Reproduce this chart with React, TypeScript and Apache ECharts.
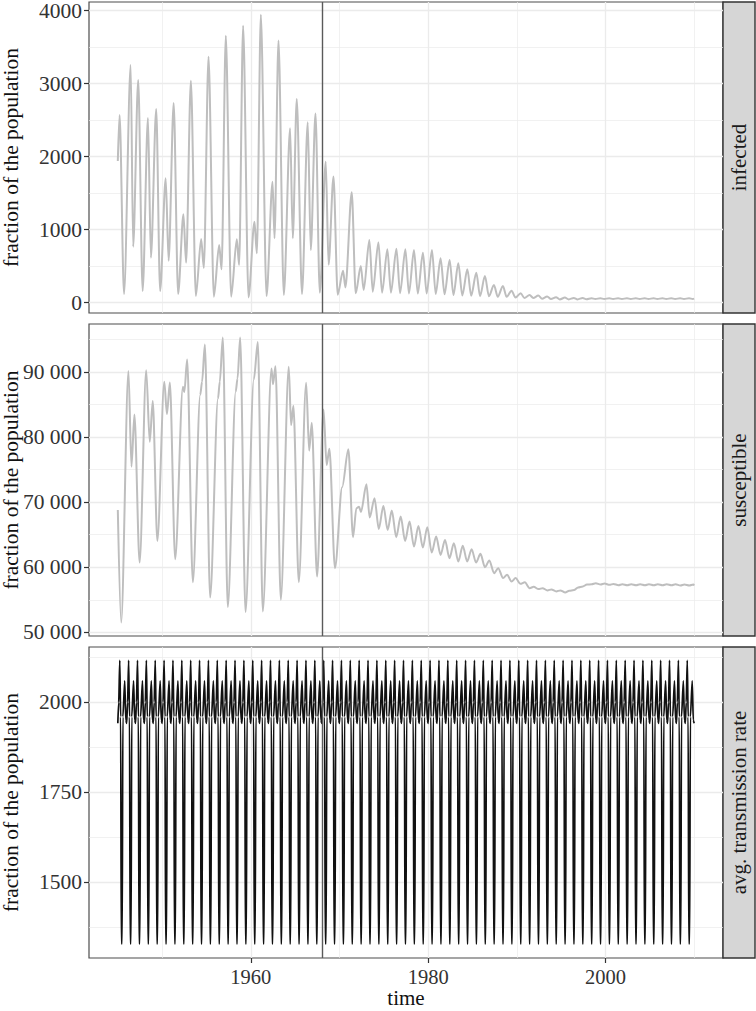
import React, { useEffect, useRef } from "react";
import * as echarts from "echarts";

// ---------- data ----------
const timeMin = 1941.75;
const timeMax = 2013.25;
const xMajorTicks = [1960, 1980, 2000];
const xMinorTicks = [1950, 1970, 1990, 2010];
const vaccinationYear = 1968;
const panelNames = ["infected", "susceptible", "avg. transmission rate"];
const yTitle = "fraction of the population";
const xTitle = "time";

const infectedTime = [
  1945.0, 1945.2, 1945.7, 1946.45, 1946.73, 1947.3, 1947.8, 1948.4, 1948.73, 1949.33, 1949.77,
  1950.4, 1950.73, 1951.3, 1951.8, 1952.4, 1952.7, 1953.24, 1953.8, 1954.4, 1954.7, 1955.23,
  1955.83, 1956.43, 1956.7, 1957.18, 1957.78, 1958.42, 1958.68, 1959.13, 1959.74, 1960.41,
  1960.68, 1961.13, 1961.77, 1962.45, 1962.67, 1963.12, 1963.72, 1964.43, 1964.73, 1965.18,
  1965.77, 1966.42, 1966.76, 1967.29, 1967.78, 1968.45, 1968.77, 1969.32, 1969.8, 1970.4,
  1970.67, 1971.38, 1971.83, 1972.4, 1972.73, 1973.37, 1973.75, 1974.39, 1974.8, 1975.4,
  1975.8, 1976.42, 1976.83, 1977.43, 1977.83, 1978.4, 1978.83, 1979.41, 1979.83, 1980.43,
  1980.85, 1981.4, 1981.85, 1982.42, 1982.85, 1983.4, 1983.85, 1984.42, 1984.85, 1985.43,
  1985.85, 1986.4, 1986.85, 1987.42, 1987.85, 1988.43, 1988.85, 1989.4, 1989.85, 1990.43,
  1990.85, 1991.44, 1991.85, 1992.42, 1992.85, 1993.42, 1993.85, 1994.42, 1994.85, 1995.42,
  1995.85, 1996.42, 1996.85, 1997.42, 1997.85, 1998.42, 1998.85, 1999.42, 1999.85, 2000.42,
  2000.85, 2001.42, 2001.85, 2002.42, 2002.85, 2003.42, 2003.85, 2004.42, 2004.85, 2005.42,
  2005.85, 2006.42, 2006.85, 2007.42, 2007.85, 2008.42, 2008.85, 2009.42, 2009.85, 2010.0,
];
const infectedValue = [
  1940, 2570, 119, 3256, 767, 3051, 160, 2530, 617, 2654, 160,
  1704, 575, 2736, 119, 1211, 548, 3042, 92, 873, 475, 3370,
  82, 790, 457, 3658, 82, 868, 516, 3795, 73, 1110,
  676, 3946, 92, 1658, 882, 3590, 105, 2389, 882, 2791,
  119, 2471, 722, 2590, 137, 1932, 520, 1730, 110, 438,
  210, 1512, 129, 503, 174, 859, 151, 827, 137, 731,
  137, 740, 130, 731, 125, 722, 125, 685, 125, 722,
  119, 608, 115, 585, 105, 540, 100, 457, 95, 411,
  90, 366, 90, 242, 80, 229, 80, 164, 70, 129,
  65, 105, 65, 97, 55, 85, 50, 75, 45, 70,
  45, 65, 45, 65, 48, 62, 50, 62, 50, 62,
  50, 62, 50, 62, 50, 62, 50, 62, 50, 62,
  50, 62, 50, 62, 50, 62, 50, 62, 50, 55,
];
const infectedTicks = [0, 1000, 2000, 3000, 4000];
const infectedMinorTicks = [500, 1500, 2500, 3500];
const infectedRange = [-141, 4119];

const susceptibleTime = [
  1945.0, 1945.38, 1946.2, 1946.54, 1946.87, 1947.46, 1948.2, 1948.6, 1948.94, 1949.46,
  1950.24, 1950.54, 1950.87, 1951.47, 1952.34, 1952.5, 1952.82, 1953.46, 1954.3, 1954.5,
  1954.82, 1955.41, 1956.3, 1956.5, 1956.84, 1957.4, 1958.3, 1958.5, 1958.8, 1959.4,
  1960.34, 1960.79, 1961.35, 1962.33, 1962.5, 1962.78, 1963.38, 1964.28, 1964.54, 1964.8,
  1965.41, 1966.24, 1966.58, 1966.87, 1967.47, 1968.2, 1968.55, 1968.86, 1969.49, 1970.3,
  1971.0, 1971.53, 1971.9, 1972.2, 1972.42, 1973.04, 1973.4, 1973.95, 1974.43, 1974.95,
  1975.43, 1975.9, 1976.4, 1976.9, 1977.4, 1977.9, 1978.4, 1978.9, 1979.4, 1979.9,
  1980.4, 1980.9, 1981.4, 1981.9, 1982.4, 1982.9, 1983.4, 1983.9, 1984.4, 1984.9,
  1985.4, 1985.9, 1986.4, 1986.9, 1987.43, 1987.9, 1988.45, 1988.9, 1989.4, 1989.86,
  1990.4, 1990.9, 1991.44, 1991.9, 1992.45, 1992.9, 1993.45, 1993.9, 1994.45, 1994.9,
  1995.46, 1995.9, 1996.45, 1996.9, 1997.45, 1997.9, 1998.45, 1998.9, 1999.45, 1999.9,
  2000.45, 2000.9, 2001.45, 2001.9, 2002.45, 2002.9, 2003.45, 2003.9, 2004.45, 2004.9,
  2005.45, 2005.9, 2006.45, 2006.9, 2007.45, 2007.9, 2008.45, 2008.9, 2009.45, 2009.9,
  2010.0,
];
const susceptibleValue = [
  68800, 51530, 90150, 75440, 83470, 60730, 90250, 79270, 85510, 64050,
  88470, 83520, 88370, 61250, 87700, 86900, 91900, 57720, 86500, 88500,
  94200, 55360, 85900, 88500, 95270, 53890, 87000, 89000, 95270, 53130,
  88830, 94600, 53220, 90500, 88110, 90870, 55010, 90800, 81830, 84790,
  57720, 88320, 77900, 82180, 58580, 84240, 75700, 78200, 59870, 72300,
  78110, 64620, 69060, 69300, 68500, 72740, 67630, 70600, 65890, 69420,
  65740, 68700, 64620, 67780, 64050, 67010, 63180, 66350, 63030, 66150,
  62260, 64710, 61900, 64200, 61400, 63700, 60880, 63300, 60880, 62780,
  60720, 62060, 60020, 61030, 59100, 59870, 58340, 58850, 57820, 58340,
  57460, 57700, 56800, 57000, 56650, 56800, 56450, 56600, 56300, 56450,
  56130, 56400, 56500, 56900, 57050, 57350, 57400, 57550, 57350, 57500,
  57300, 57450, 57250, 57400, 57250, 57400, 57250, 57400, 57250, 57400,
  57250, 57400, 57250, 57400, 57250, 57400, 57200, 57350, 57200, 57350,
  57200,
];
const susceptibleTicks = [50000, 60000, 70000, 80000, 90000];
const susceptibleMinorTicks = [55000, 65000, 75000, 85000, 95000];
const susceptibleRange = [49450, 97350];

// one seasonal cycle of the transmission rate, repeated every year
const rateFirstYear = 1945;
const rateLastYear = 2010;
const rateCyclePhase = [0, 0.1, 0.22, 0.32, 0.39, 0.49, 0.57, 0.78, 0.9];
const rateCycleValue = [1942, 2000, 2117, 1960, 1330, 1330, 1960, 2060, 1950];
const rateTicks = [1500, 1750, 2000];
const rateMinorTicks = [1375, 1625, 1875, 2125];
const rateRange = [1290, 2154];

// ---------- layout ----------
const W = 756;
const H = 1011;
const gridLeft = 89;
const gridRight = 723;
const stripW = 32;
const panelTops = [2, 324, 647];
const panelHeights = [311, 312, 311];
const font = "'Liberation Serif', 'Times New Roman', serif";
const tickFont = 21.5;
const xTickFont = 20.5;
const titleFont = 21.5;
const stripFont = 21;

function pairs(t: number[], v: number[]) {
  return t.map((x, i) => [x, v[i]]);
}

function rateSeriesData() {
  const out: number[][] = [];
  for (let y = rateFirstYear; y < rateLastYear; y++) {
    rateCyclePhase.forEach((p, i) => out.push([y + p, rateCycleValue[i]]));
  }
  out.push([rateLastYear, rateCycleValue[0]]);
  return out;
}

export default function App() {
  const ref = useRef<HTMLDivElement>(null);
  useEffect(() => {
    const chart = echarts.init(ref.current!, null, { renderer: "svg" });
    const grids = panelTops.map((top, i) => ({
      left: gridLeft,
      top,
      width: gridRight - gridLeft,
      height: panelHeights[i],
      show: true,
      borderColor: "#4d4d4d",
      borderWidth: 1.2,
      backgroundColor: "#fff",
      containLabel: false,
      outerBoundsMode: "none",
    }));
    const gridLine = "#EBEBEB";
    const xAxes: any[] = [];
    panelTops.forEach((_, i) => {
      const last = i === panelTops.length - 1;
      xAxes.push({
        type: "value",
        gridIndex: i,
        min: timeMin,
        max: timeMax,
        position: "bottom",
        axisLine: { show: false },
        axisTick: { show: last, length: 5, customValues: xMajorTicks, lineStyle: { color: "#333", width: 1.2 } },
        axisLabel: {
          show: last,
          customValues: xMajorTicks,
          formatter: (v: number) => String(v),
          margin: 8,
          color: "#333",
          fontFamily: font,
          fontSize: xTickFont,
        },
        splitLine: { show: true, lineStyle: { color: gridLine, width: 1.3 } },
        name: last ? xTitle : "",
        nameLocation: "middle",
        nameGap: 29.5,
        nameMoveOverlap: false,
        nameTextStyle: { color: "#111", fontFamily: font, fontSize: 21 },
      });
      xAxes.push({
        type: "value",
        gridIndex: i,
        min: timeMin,
        max: timeMax,
        position: "top",
        axisLine: { show: false },
        axisTick: { show: false, customValues: xMinorTicks },
        axisLabel: { show: false },
        splitLine: { show: true, lineStyle: { color: gridLine, width: 0.7 } },
      });
    });
    const yDefs = [
      { range: infectedRange, ticks: infectedTicks, minor: infectedMinorTicks, fmt: (v: number) => String(v) },
      {
        range: susceptibleRange,
        ticks: susceptibleTicks,
        minor: susceptibleMinorTicks,
        fmt: (v: number) => `${Math.round(v / 1000)} 000`,
      },
      { range: rateRange, ticks: rateTicks, minor: rateMinorTicks, fmt: (v: number) => String(v) },
    ];
    const yAxes: any[] = [];
    yDefs.forEach((d, i) => {
      yAxes.push({
        type: "value",
        gridIndex: i,
        min: d.range[0],
        max: d.range[1],
        position: "left",
        axisLine: { show: false },
        axisTick: { show: true, length: 5, customValues: d.ticks, lineStyle: { color: "#333", width: 1.2 } },
        axisLabel: {
          show: true,
          customValues: d.ticks,
          formatter: d.fmt,
          margin: 7,
          color: "#333",
          fontFamily: font,
          fontSize: tickFont,
        },
        splitLine: { show: true, lineStyle: { color: gridLine, width: 1.3 } },
        name: yTitle,
        nameLocation: "middle",
        nameGap: 67,
        nameMoveOverlap: false,
        nameTextStyle: { color: "#111", fontFamily: font, fontSize: titleFont },
      });
      yAxes.push({
        type: "value",
        gridIndex: i,
        min: d.range[0],
        max: d.range[1],
        position: "right",
        axisLine: { show: false },
        axisTick: { show: false, customValues: d.minor },
        axisLabel: { show: false },
        splitLine: { show: true, lineStyle: { color: gridLine, width: 0.7 } },
      });
    });

    const vline = {
      silent: true,
      symbol: "none",
      label: { show: false },
      lineStyle: { color: "#5a5a5a", width: 1.4, type: "solid" },
      data: [{ xAxis: vaccinationYear }],
    };

    const series: any[] = [
      {
        name: panelNames[0],
        type: "line",
        xAxisIndex: 0,
        yAxisIndex: 0,
        data: pairs(infectedTime, infectedValue),
        showSymbol: false,
        smooth: 0.3,
        smoothMonotone: "x",
        lineStyle: { color: "#BEBEBE", width: 2 },
        markLine: vline,
        z: 3,
      },
      {
        name: panelNames[1],
        type: "line",
        xAxisIndex: 2,
        yAxisIndex: 2,
        data: pairs(susceptibleTime, susceptibleValue),
        showSymbol: false,
        smooth: 0.3,
        smoothMonotone: "x",
        lineStyle: { color: "#BEBEBE", width: 2 },
        markLine: vline,
        z: 3,
      },
      {
        name: panelNames[2],
        type: "line",
        xAxisIndex: 4,
        yAxisIndex: 4,
        data: rateSeriesData(),
        showSymbol: false,
        smooth: 0.25,
        smoothMonotone: "x",
        lineStyle: { color: "#111", width: 1.7 },
        markLine: vline,
        z: 3,
      },
    ];

    const graphic: any[] = [];
    panelTops.forEach((top, i) => {
      const h = panelHeights[i];
      graphic.push({
        type: "rect",
        shape: { x: gridRight, y: top, width: stripW, height: h },
        style: { fill: "#D6D6D6", stroke: "#333", lineWidth: 1.4 },
      });
      graphic.push({
        type: "text",
        x: gridRight + stripW / 2,
        y: top + h / 2,
        rotation: Math.PI / 2,
        style: {
          text: panelNames[i],
          fill: "#1a1a1a",
          font: `${stripFont}px ${font}`,
          align: "center",
          verticalAlign: "middle",
        },
      });
    });

    chart.setOption({
      animation: false,
      backgroundColor: "#fff",
      grid: grids,
      xAxis: xAxes,
      yAxis: yAxes,
      series,
      graphic,
    });
    return () => chart.dispose();
  }, []);
  return <div ref={ref} style={{ position: "absolute", left: 0, top: 0, width: W, height: H }} />;
}
